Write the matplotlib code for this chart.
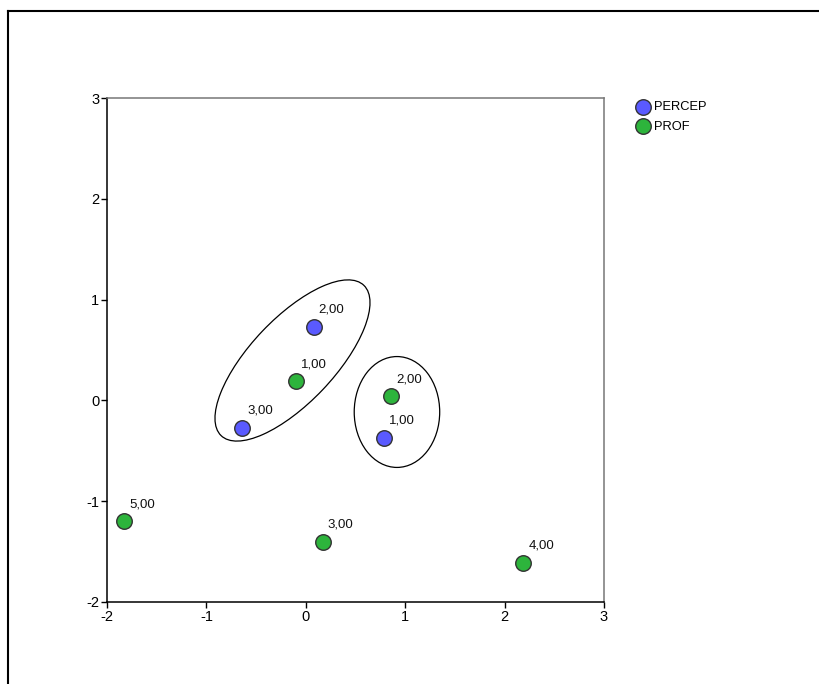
import matplotlib.pyplot as plt
from matplotlib.patches import Ellipse
from matplotlib.lines import Line2D

plt.rcParams['font.family'] = ['Liberation Sans', 'DejaVu Sans']
plt.rcParams['axes.unicode_minus'] = False

# object scores for the two variables
percep_x = [0.79, 0.08, -0.64]
percep_y = [-0.37, 0.73, -0.27]
percep_labels = ['1,00', '2,00', '3,00']

prof_x = [-0.10, 0.86, 0.17, 2.19, -1.83]
prof_y = [0.19, 0.04, -1.40, -1.61, -1.20]
prof_labels = ['1,00', '2,00', '3,00', '4,00', '5,00']

ticks = [-2, -1, 0, 1, 2, 3]

fig = plt.figure(figsize=(8.2, 6.84), dpi=100)
ax = fig.add_axes([0.1305, 0.1199, 0.6061, 0.7368])

blue = '#5a5aff'
green = '#2db43c'
ax.scatter(percep_x, percep_y, s=125, c=blue, edgecolors='#333333',
           linewidths=1.0, label='PERCEP', zorder=3)
ax.scatter(prof_x, prof_y, s=125, c=green, edgecolors='#333333',
           linewidths=1.0, label='PROF', zorder=3)

for x, y, t in zip(percep_x + prof_x, percep_y + prof_y,
                   percep_labels + prof_labels):
    ax.annotate(t, (x, y), xytext=(3.6, 10), textcoords='offset points',
                fontsize=9.5, va='baseline', ha='left', color='#111111')

# groupings drawn round the points
ax.add_patch(Ellipse((-0.134, 0.396), 2.07, 0.84, angle=46,
                     fill=False, edgecolor='black', lw=0.9))
ax.add_patch(Ellipse((0.917, -0.115), 0.86, 1.10, angle=0,
                     fill=False, edgecolor='black', lw=0.9))

ax.set_xlim(-2, 3)
ax.set_ylim(-2, 3)
ax.set_xticks(ticks)
ax.set_yticks(ticks)
ax.tick_params(direction='out', length=4.5, width=1, labelsize=10.5, pad=1)
for side in ['left', 'bottom']:
    ax.spines[side].set_color('black')
    ax.spines[side].set_linewidth(1.1)
for side in ['top', 'right']:
    ax.spines[side].set_color('#777777')
    ax.spines[side].set_linewidth(1.1)

ax.legend(loc='upper left', bbox_to_anchor=(0.772, 0.862),
          bbox_transform=fig.transFigure, frameon=False, fontsize=9.3,
          handletextpad=0.5, labelspacing=0.6, borderpad=0,
          handlelength=0.6, markerscale=1.0)

# outer frame
fig.add_artist(Line2D([8 / 820, 8 / 820], [0, 1 - 11 / 684],
                      transform=fig.transFigure, color='black', lw=1.5))
fig.add_artist(Line2D([8 / 820, 1], [1 - 11 / 684, 1 - 11 / 684],
                      transform=fig.transFigure, color='black', lw=1.5))

fig.savefig('out.png', dpi=100)
